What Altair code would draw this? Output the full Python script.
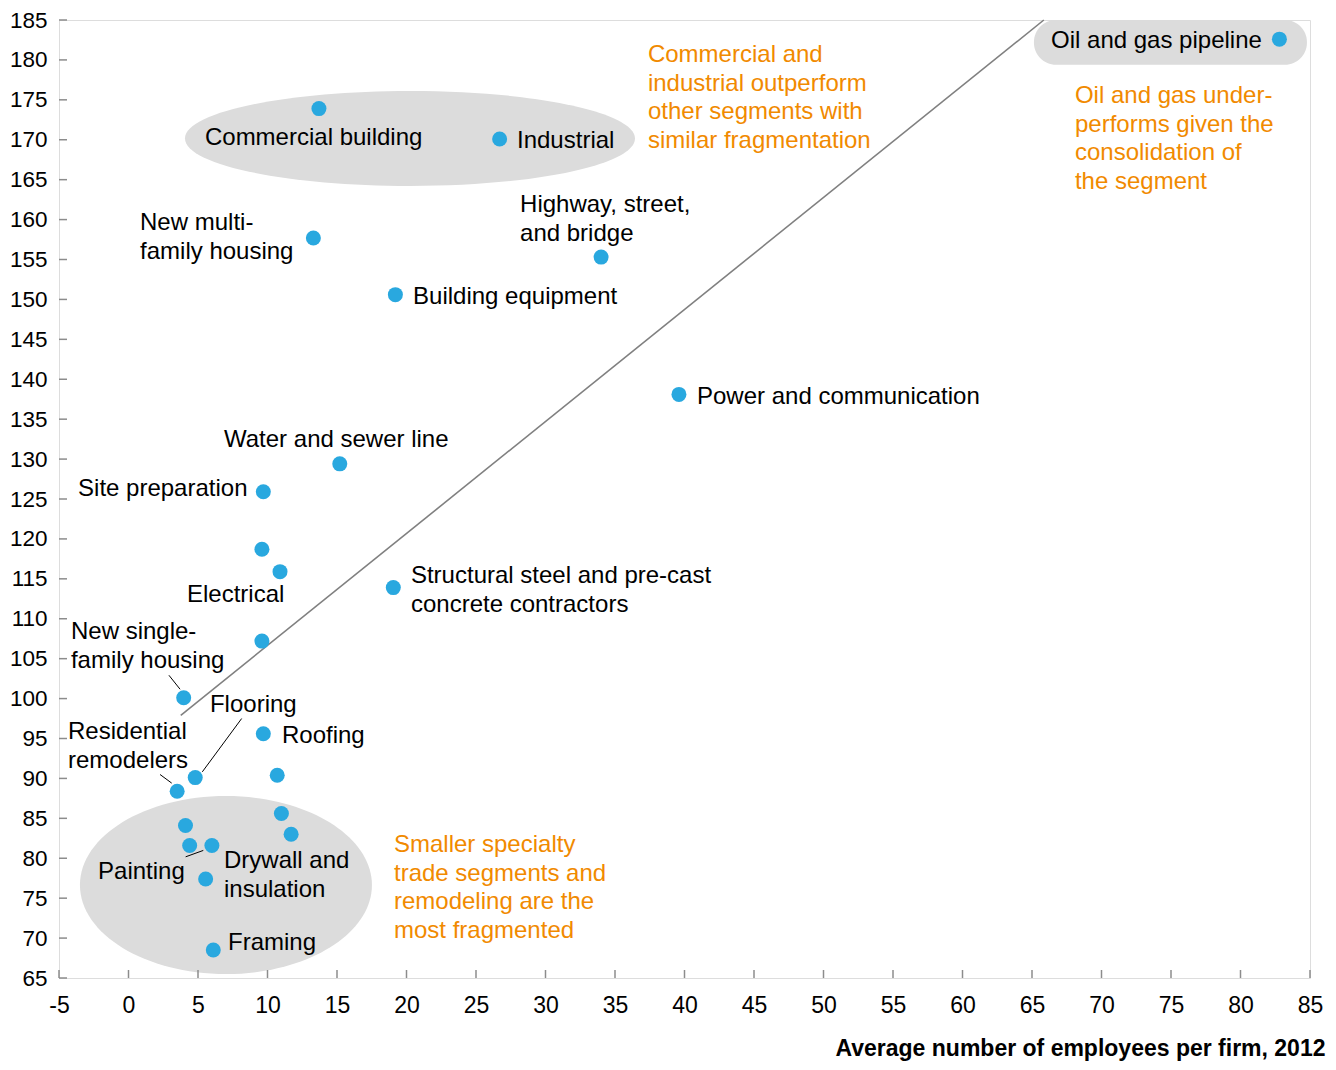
import altair as alt
import pandas as pd

FONT = "Liberation Sans"
BLUE = "#29a8df"
ORANGE = "#f18a00"
GRAY_FILL = "#dcdcdc"
FRAME = "#8c8c8c"

# ---- data ----
seg_x = [82.8, 13.7, 26.7, 13.3, 34.0, 19.2, 39.6, 15.2, 9.7, 9.6, 10.9, 19.05, 9.6,
         3.97, 9.7, 4.8, 10.7, 3.5, 11.0, 4.1, 11.7, 4.4, 6.0, 5.55, 6.1]
seg_y = [182.6, 173.9, 170.1, 157.7, 155.3, 150.6, 138.1, 129.4, 125.9, 118.7, 115.9, 113.9, 107.2,
         100.1, 95.6, 90.1, 90.4, 88.4, 85.6, 84.1, 83.0, 81.6, 81.6, 77.4, 68.5]

label_text = [
    "Oil and gas pipeline", "Commercial building", "Industrial",
    "New multi-\nfamily housing", "Highway, street,\nand bridge", "Building equipment",
    "Power and communication", "Water and sewer line", "Site preparation", "Electrical",
    "Structural steel and pre-cast\nconcrete contractors", "New single-\nfamily housing",
    "Flooring", "Roofing", "Residential\nremodelers", "Painting", "Drywall and\ninsulation", "Framing",
]
# x = left edge of label, y = middle of its first line
label_x = [66.37, 5.5, 27.95, 0.83, 28.17, 20.47, 40.9, 6.87, -3.63, 4.21, 20.32, -4.14,
           5.86, 11.04, -4.35, -2.19, 6.87, 7.16]
label_y = [182.37, 170.2, 169.85, 159.6, 161.85, 150.34, 137.83, 132.45, 126.19, 112.93, 115.3, 108.3,
           99.17, 95.29, 95.79, 78.27, 79.65, 69.38]

note_text = [
    "Commercial and\nindustrial outperform\nother segments with\nsimilar fragmentation",
    "Oil and gas under-\nperforms given the\nconsolidation of\nthe segment",
    "Smaller specialty\ntrade segments and\nremodeling are the\nmost fragmented",
]
note_x = [37.37, 68.09, 19.1]
note_y = [180.62, 175.49, 81.65]

# leader lines (start -> end, data units)
lead_x = [2.91, 8.14, 2.27, 4.11]
lead_y = [102.92, 97.5, 90.49, 80.18]
lead_x2 = [3.71, 5.31, 3.11, 5.38]
lead_y2 = [101.17, 90.82, 89.41, 80.98]

# diagonal reference line
diag_x = [3.76]
diag_y = [97.9]
diag_x2 = [65.85]
diag_y2 = [185.0]

# highlight shapes
ell_top_center = ([20.25], [170.17])
ell_bot_center = ([7.01], [76.64])
pill_x, pill_x2, pill_y, pill_y2 = [65.14], [84.78], [185.0], [179.4]

x_ticks = list(range(-5, 90, 5))
y_ticks = list(range(65, 190, 5))

W, H = 1251, 958

xs = alt.Scale(domain=[-5, 85], nice=False, zero=False)
ys = alt.Scale(domain=[65, 185], nice=False, zero=False)

x_axis = alt.Axis(values=x_ticks, ticks=False, tickSize=0, domain=False, grid=False,
                  labelExpr="'' + datum.value",
                  labelFont=FONT, labelFontSize=23, labelColor="#000", labelPadding=16,
                  labelFlush=False, labelOverlap=False,
                  title="Average number of employees per firm, 2012", titleFont=FONT,
                  titleFontSize=23, titleFontWeight="bold", titleColor="#000",
                  titleAlign="right", titleAnchor="end", titleX=1266, titleY=77,
                  titleBaseline="alphabetic")
y_axis = alt.Axis(values=y_ticks, ticks=False, tickSize=0, domain=False, grid=False,
                  labelFont=FONT, labelFontSize=22.5, labelColor="#000", labelPadding=12,
                  labelFlush=False, labelOverlap=False, title=None)

X = alt.X("x:Q", scale=xs, axis=x_axis)
Y = alt.Y("y:Q", scale=ys, axis=y_axis)

pts = pd.DataFrame({"x": seg_x, "y": seg_y})
lbl = pd.DataFrame({"x": label_x, "y": label_y, "t": label_text})
notes = pd.DataFrame({"x": note_x, "y": note_y, "t": note_text})
leads = pd.DataFrame({"x": lead_x, "y": lead_y, "x2": lead_x2, "y2": lead_y2})
diag = pd.DataFrame({"x": diag_x, "y": diag_y, "x2": diag_x2, "y2": diag_y2})
ell_top = pd.DataFrame({"x": ell_top_center[0], "y": ell_top_center[1]})
ell_bot = pd.DataFrame({"x": ell_bot_center[0], "y": ell_bot_center[1]})
pill = pd.DataFrame({"x": pill_x, "x2": pill_x2, "y": pill_y, "y2": pill_y2})
xt = pd.DataFrame({"x": x_ticks})
yt = pd.DataFrame({"y": y_ticks})


def ellipse_path(ratio):
    return f"M -1 0 A 1 {ratio} 0 1 1 1 0 A 1 {ratio} 0 1 1 -1 0 Z"


l_ell_top = alt.Chart(ell_top).mark_point(
    shape=ellipse_path(47.5 / 225), size=450 ** 2, filled=True, fill=GRAY_FILL,
    opacity=1, strokeWidth=0).encode(x=X, y=Y)
l_ell_bot = alt.Chart(ell_bot).mark_point(
    shape=ellipse_path(89 / 146), size=292 ** 2, filled=True, fill=GRAY_FILL,
    opacity=1, strokeWidth=0).encode(x=X, y=Y)
l_diag = alt.Chart(diag).mark_rule(color="#808080", strokeWidth=1.6).encode(
    x=X, y=Y, x2="x2:Q", y2="y2:Q")
l_pill = alt.Chart(pill).mark_rect(color=GRAY_FILL, cornerRadius=22).encode(
    x=X, y=Y, x2="x2:Q", y2="y2:Q")
l_xt = alt.Chart(xt).mark_rule(color=FRAME, strokeWidth=1.5).encode(
    x=X, y=alt.value(H), y2=alt.value(H - 8))
l_yt = alt.Chart(yt).mark_rule(color=FRAME, strokeWidth=1.5).encode(
    y=Y, x=alt.value(0), x2=alt.value(8))
l_pts = alt.Chart(pts).mark_circle(size=225, color=BLUE, opacity=1).encode(x=X, y=Y)
l_lbl = alt.Chart(lbl).mark_text(font=FONT, fontSize=24, color="#000", align="left",
                                 baseline="middle", lineBreak="\n", lineHeight=29).encode(
    x=X, y=Y, text="t:N")
l_notes = alt.Chart(notes).mark_text(font=FONT, fontSize=24, color=ORANGE, align="left",
                                     baseline="middle", lineBreak="\n", lineHeight=28.7).encode(
    x=X, y=Y, text="t:N")
l_leads = alt.Chart(leads).mark_rule(color="#000", strokeWidth=1).encode(
    x=X, y=Y, x2="x2:Q", y2="y2:Q")

chart = alt.layer(
    l_ell_top, l_ell_bot, l_diag, l_pill, l_xt, l_yt, l_pts, l_lbl, l_notes, l_leads
).properties(
    width=W, height=H,
    autosize=alt.AutoSizeParams(type="none"),
    padding={"left": 51, "top": 12, "right": 18, "bottom": 83},
).configure_view(stroke=FRAME, strokeWidth=2).configure(background="white")

chart.save("out.html", embed_options={"renderer": "svg", "actions": False})
